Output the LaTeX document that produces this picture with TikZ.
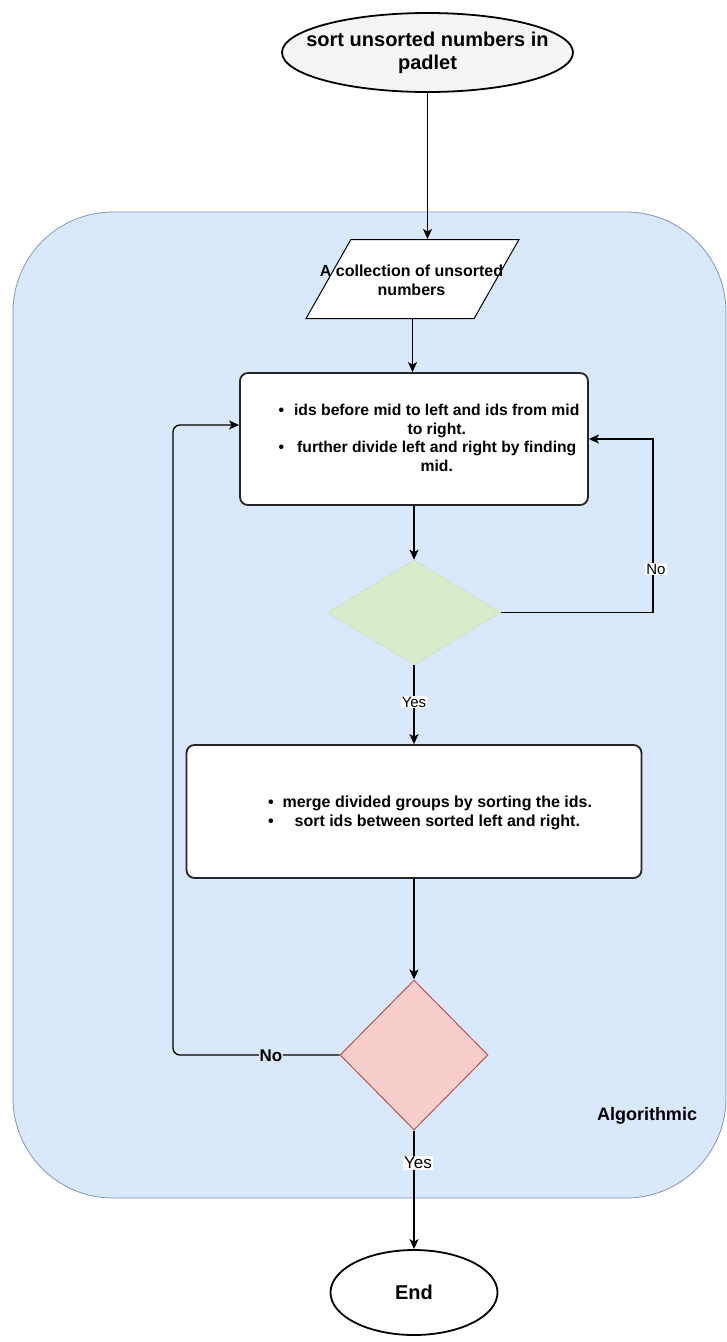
\documentclass[tikz,border=0pt]{standalone}
\usepackage{fontspec}
\setmainfont{Liberation Sans}
\usetikzlibrary{shapes.geometric,arrows.meta}

\definecolor{panelblue}{HTML}{DAE8FC}
\definecolor{panelline}{HTML}{8395B8}
\definecolor{checkgreen}{HTML}{DAEBCB}
\definecolor{checkgreenline}{HTML}{CCE0BA}
\definecolor{loopred}{HTML}{F8CECC}
\definecolor{loopredline}{HTML}{B85450}

\begin{document}
\begin{tikzpicture}[x=1pt,y=-1pt,
  panel/.style={draw=panelline,line width=0.8pt,fill=panelblue,rounded corners=100pt,
    minimum width=713pt,minimum height=986pt,inner sep=0pt},
  terminal/.style={ellipse,draw=black,line width=1.8pt,inner sep=0pt},
  iobox/.style={trapezium,trapezium left angle=70,trapezium right angle=110,
    trapezium stretches=true,draw=black,line width=1pt,fill=white,
    minimum width=213pt,minimum height=79pt,inner sep=2pt},
  stepbox/.style={rectangle,rounded corners=8pt,draw=black!85,line width=1.8pt,fill=white,inner sep=0pt},
  decision/.style={diamond,inner sep=0pt},
  bodytext/.style={font=\bfseries\fontsize{15.7}{18.5}\selectfont,inner sep=0pt},
  flow/.style={draw=black,line width=1.3pt,-{Stealth[length=10pt,width=9pt,inset=2.5pt]}},
  lbl/.style={fill=white,inner sep=1pt,font=\fontsize{15}{17}\selectfont}
]
\useasboundingbox (0,0) rectangle (727,1342);

% algorithmic panel behind the loop
\node[panel] (panel) at (369.5,705) {};
\node[font=\bfseries\fontsize{18}{21}\selectfont] (paneltitle) at (647,1116) {Algorithmic};

% start / end terminals
\node[terminal,fill=black!4,minimum width=291pt,minimum height=79pt] (start) at (427.5,52.5) {};
\node[font=\bfseries\fontsize{20}{23}\selectfont,align=center] (starttext) at (start) {sort unsorted numbers in\\padlet};
\node[terminal,fill=white,minimum width=167pt,minimum height=85pt] (end) at (414,1292.5) {};
\node[font=\bfseries\fontsize{20}{23}\selectfont] (endtext) at (end) {End};

% input data
\node[iobox] (para) at (412.5,279) {};
\node[font=\bfseries\fontsize{16}{19}\selectfont,align=center] (paratext) at (411.5,280) {A collection of unsorted\\numbers};

% divide step
\node[stepbox,minimum width=348pt,minimum height=132pt] (box1) at (414,439) {};
\node[bodytext] (box1text) at (429,440) {\renewcommand\arraystretch{1}%
  \begin{tabular}{@{}c@{\hspace{10pt}}c@{}}
  \textbullet & ids before mid to left and ids from mid\\
              & to right.\\
  \textbullet & further divide left and right by finding\\
              & mid.
  \end{tabular}};

% split check
\node[decision,fill=checkgreen,draw=checkgreenline,line width=0.6pt,
  minimum width=173pt,minimum height=105pt] (gdec) at (414,612.5) {};

% merge step
\node[stepbox,minimum width=455pt,minimum height=133pt] (box2) at (414,811.5) {};
\node[bodytext,font=\bfseries\fontsize{16}{19}\selectfont] (box2text) at (430,813.5) {\renewcommand\arraystretch{1}%
  \begin{tabular}{@{}c@{\hspace{9pt}}c@{}}
  \textbullet & merge divided groups by sorting the ids.\\
  \textbullet & sort ids between sorted left and right.
  \end{tabular}};

% merge check
\node[decision,fill=loopred,draw=loopredline,line width=1pt,
  minimum width=148pt,minimum height=150pt] (rdec) at (414,1055) {};

% loop return points
\coordinate (rloop) at (653,0);
\coordinate (lloop) at (173,0);
\coordinate (box1in) at ([yshift=14pt]box1.west);

% connectors
\draw[flow] (start.south) -- (start.south |- para.north);
\draw[flow] (para.south) -- (para.south |- box1.north);
\draw[flow] (box1.south) -- (box1.south |- gdec.north);
\draw[flow] (gdec.east) -| (rloop |- box1.east) -- (box1.east);
\draw[flow] (gdec.south) -- (gdec.south |- box2.north);
\draw[flow] (box2.south) -- (box2.south |- rdec.north);
\draw[flow,rounded corners=7pt] (rdec.west) -| (lloop |- box1in) -- (box1in);
\draw[flow] (rdec.south) -- (rdec.south |- end.north);

% branch labels
\node[lbl] (noright) at (656,569) {No};
\node[lbl] (yesmid) at (414,702) {Yes};
\node[lbl,fill=panelblue,font=\bfseries\fontsize{17}{19}\selectfont] (noleft) at (271,1056) {No};
\node[lbl,font=\fontsize{17}{19}\selectfont] (yesbottom) at (418,1163) {Yes};
\end{tikzpicture}
\end{document}
